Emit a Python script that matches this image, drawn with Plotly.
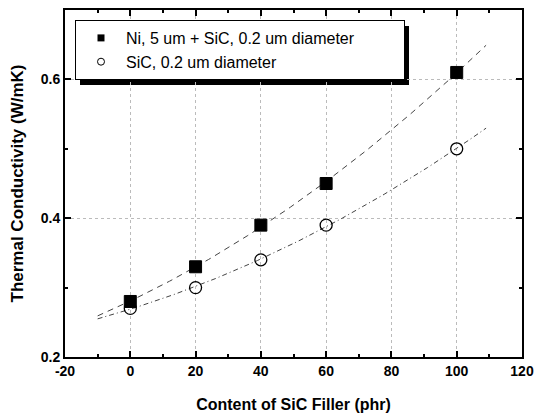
import numpy as np
import plotly.graph_objects as go

x_vals = [0, 20, 40, 60, 100]
ni_sic = [0.28, 0.33, 0.39, 0.45, 0.61]
sic = [0.27, 0.30, 0.34, 0.39, 0.50]

name_ni = "Ni, 5 um + SiC, 0.2 um diameter"
name_sic = "SiC, 0.2 um diameter"
x_title = "Content of SiC Filler (phr)"
y_title = "Thermal Conductivity (W/mK)"
x_tickvals = [-20, 0, 20, 40, 60, 80, 100, 120]
x_ticktext = ["-20", "0", "20", "40", "60", "80", "100", "120"]
y_tickvals = [0.2, 0.4, 0.6]
y_ticktext = ["0.2", "0.4", "0.6"]
fit_range = [-10, 109]

fx = np.linspace(fit_range[0], fit_range[1], 120)
p_ni = np.polyfit(x_vals, ni_sic, 2)
p_sic = np.polyfit(x_vals, sic, 2)

FONT = "Liberation Sans, Arial"
pad = "\u00a0" * 10

fig = go.Figure()
fig.add_trace(go.Scatter(x=fx, y=np.polyval(p_ni, fx), mode="lines",
                         line=dict(color="#444", width=1, dash="6px,5px"), showlegend=False, hoverinfo="skip"))
fig.add_trace(go.Scatter(x=fx, y=np.polyval(p_sic, fx), mode="lines",
                         line=dict(color="#444", width=1, dash="5px,3px,1px,3px"), showlegend=False, hoverinfo="skip"))
fig.add_trace(go.Scatter(x=x_vals, y=ni_sic, mode="markers", showlegend=False,
                         marker=dict(symbol="square", size=12, color="black", line=dict(color="black", width=1))))
fig.add_trace(go.Scatter(x=x_vals, y=sic, mode="markers", showlegend=False,
                         marker=dict(symbol="circle-open", size=12, color="black", line=dict(color="black", width=1.3))))
# legend entries
fig.add_trace(go.Scatter(x=[None], y=[None], mode="markers", name=name_ni + pad,
                         marker=dict(symbol="square", size=7, color="black")))
fig.add_trace(go.Scatter(x=[None], y=[None], mode="markers", name=name_sic,
                         marker=dict(symbol="circle-open", size=7, color="black", line=dict(width=1))))

font_tick = dict(family=FONT, size=14, color="black", weight="bold")
axis_common = dict(
    showline=True, linecolor="black", linewidth=2, mirror="ticks",
    ticks="inside", ticklen=6, tickwidth=2, tickcolor="black",
    showgrid=True, gridcolor="#bbb", griddash="dot", gridwidth=1,
    zeroline=False, tickfont=font_tick, automargin=False,
)
fig.update_xaxes(range=[-20, 120], tickmode="array", tickvals=x_tickvals, ticktext=x_ticktext,
                 minor=dict(dtick=10, tick0=0, ticks="inside", ticklen=3, tickcolor="black", showgrid=False),
                 title=dict(text=x_title, font=dict(family=FONT, size=16, color="black", weight="bold"), standoff=22),
                 **axis_common)
fig.update_yaxes(range=[0.2, 0.7], tickmode="array", tickvals=y_tickvals, ticktext=y_ticktext,
                 minor=dict(dtick=0.1, tick0=0.2, ticks="inside", ticklen=3, tickcolor="black", showgrid=False),
                 title=dict(text=y_title, font=dict(family=FONT, size=17, color="black", weight="bold"), standoff=13),
                 **axis_common)

# legend shadow
fig.add_shape(type="rect", xref="paper", yref="paper", layer="below",
              x0=(80 - 65) / 457, x1=(409 - 65) / 457,
              y0=(357 - 85) / 347, y1=(357 - 26) / 347,
              fillcolor="black", line=dict(width=0))

fig.update_layout(
    width=536, height=413,
    margin=dict(l=65, r=14, t=10, b=56),
    paper_bgcolor="white", plot_bgcolor="white",
    legend=dict(x=(75 - 65) / 457, y=(357 - 20) / 347, xanchor="left", yanchor="top",
                bgcolor="white", bordercolor="black", borderwidth=1,
                font=dict(family=FONT, size=16, color="black"),
                itemsizing="trace", itemwidth=40, tracegroupgap=0),
    showlegend=True,
)
fig.write_html("out.html")
